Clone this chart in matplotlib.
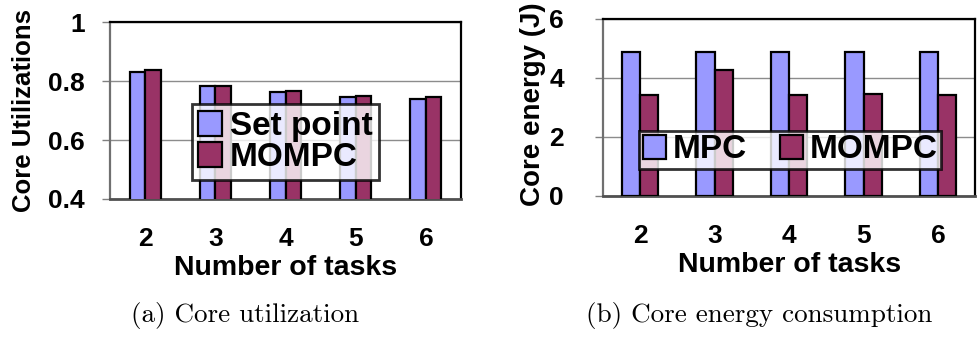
import numpy as np
import matplotlib
matplotlib.use("Agg")
import matplotlib.pyplot as plt

# === Data ===
tasks = ["2", "3", "4", "5", "6"]
util_setpoint = [0.832, 0.783, 0.762, 0.745, 0.738]
util_mompc = [0.836, 0.783, 0.766, 0.750, 0.745]
energy_mpc = [4.88, 4.88, 4.88, 4.88, 4.88]
energy_mompc = [3.42, 4.27, 3.42, 3.45, 3.42]

# === Style ===
blue = "#9999FF"
plum = "#993366"
plt.rcParams["font.family"] = ["Liberation Sans", "DejaVu Sans"]
plt.rcParams["font.weight"] = "bold"

fig = plt.figure(figsize=(9.77, 3.39), dpi=100)
ax1 = fig.add_axes([0.1126, 0.413, 0.3593, 0.522])
ax2 = fig.add_axes([0.6172, 0.422, 0.381, 0.522])

x = np.arange(len(tasks))


def style_axes(ax, ylim, yticks, ylabel, ylabel_size, ypad):
    ax.set_xlim(-0.5, len(tasks) - 0.5)
    ax.set_ylim(*ylim)
    ax.set_yticks(yticks)
    ax.set_yticklabels([f"{t:g}" for t in yticks])
    ax.set_xticks(x)
    ax.set_xticklabels(tasks)
    ax.tick_params(axis="x", length=0, pad=20, labelsize=19)
    ax.tick_params(axis="y", length=6, width=1, color="#808080", pad=ypad, labelsize=19)
    ax.yaxis.grid(True, color="#8c8c8c", linewidth=1)
    ax.set_axisbelow(True)
    for side in ("top", "right"):
        ax.spines[side].set_color("black")
        ax.spines[side].set_linewidth(1.6)
    ax.spines["left"].set_color("#707070")
    ax.spines["left"].set_linewidth(1.6)
    ax.spines["bottom"].set_color("#505050")
    ax.spines["bottom"].set_linewidth(2)
    ax.set_xlabel("Number of tasks", fontsize=20.5, fontweight="bold", labelpad=3)
    ax.set_ylabel(ylabel, fontsize=ylabel_size, fontweight="bold")


# === (a) Core utilization ===
w1 = 0.22
ax1.bar(x - w1 / 2, util_setpoint, w1, color=blue, edgecolor="black",
        linewidth=1.6, label="Set point", zorder=3)
ax1.bar(x + w1 / 2, util_mompc, w1, color=plum, edgecolor="black",
        linewidth=1.6, label="MOMPC", zorder=3)
style_axes(ax1, (0.4, 1.0), [0.4, 0.6, 0.8, 1.0], "Core Utilizations", 18.5, 12)
ax1.yaxis.set_label_coords(-0.212, 0.5)
leg1 = ax1.legend(loc="center", bbox_to_anchor=(0.5, 0.322), fontsize=24,
                  frameon=True, fancybox=False, edgecolor="black",
                  handlelength=0.7, handleheight=0.75, handletextpad=0.25,
                  labelspacing=0.0, borderpad=0.2, borderaxespad=0)
leg1.get_frame().set_linewidth(2)
leg1.set_zorder(5)

# === (b) Core energy consumption ===
w2 = 0.245
ax2.bar(x - w2 / 2, energy_mpc, w2, color=blue, edgecolor="black",
        linewidth=1.6, label="MPC", zorder=3)
ax2.bar(x + w2 / 2, energy_mompc, w2, color=plum, edgecolor="black",
        linewidth=1.6, label="MOMPC", zorder=3)
style_axes(ax2, (0, 6), [0, 2, 4, 6], "Core energy (J)", 20, 22)
ax2.yaxis.set_label_coords(-0.152, 0.52)
leg2 = ax2.legend(loc="center", bbox_to_anchor=(0.503, 0.26), ncol=2, fontsize=24,
                  frameon=True, fancybox=False, edgecolor="black",
                  handlelength=0.7, handleheight=0.75, handletextpad=0.2,
                  columnspacing=1.0, borderpad=0.1, borderaxespad=0)
leg2.get_frame().set_linewidth(2)
leg2.set_zorder(5)

# === Captions ===
fig.text(0.251, 0.068, "(a) Core utilization", ha="center", va="center",
         fontsize=19.5, fontfamily="cmr10", fontweight="normal")
fig.text(0.777, 0.068, "(b) Core energy consumption", ha="center", va="center",
         fontsize=19.5, fontfamily="cmr10", fontweight="normal")

fig.savefig("out.png", dpi=100)
